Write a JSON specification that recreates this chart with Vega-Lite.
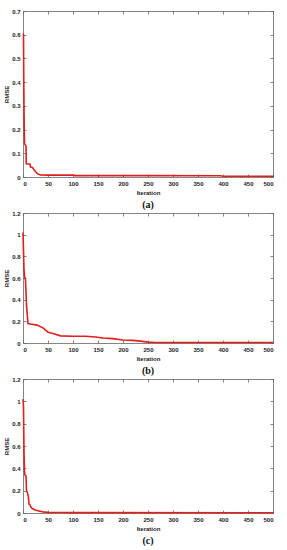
{
  "$schema": "https://vega.github.io/schema/vega-lite/v6.json",
  "padding": {"left": 3, "top": 8, "right": 12, "bottom": 0},
  "background": "white",
  "spacing": 0,
  "config": {
    "view": {"stroke": null},
    "axis": {"grid": false, "domainColor": "#666", "tickColor": "#666", "labelColor": "#222", "labelFont": "Liberation Sans", "labelFontSize": 6, "labelFontWeight": "bold", "titleFont": "Liberation Sans", "titleFontSize": 6, "titleFontWeight": "bold", "titleColor": "#222", "tickSize": -3, "labelPadding": 6, "titlePadding": 3, "domainWidth": 0.8, "tickWidth": 0.8, "labelOverlap": false},
    "title": {"font": "Liberation Serif", "fontSize": 10, "fontWeight": "bold", "color": "#111", "orient": "bottom", "anchor": "middle", "offset": 5}
  },
  "datasets": {
    "a": [
      {"it": 0, "v": 0.605}, {"it": 1, "v": 0.6}, {"it": 1.5, "v": 0.42}, {"it": 2, "v": 0.3}, {"it": 2.5, "v": 0.2}, {"it": 3, "v": 0.14}, {"it": 5, "v": 0.135}, {"it": 6, "v": 0.13}, {"it": 6.5, "v": 0.056}, {"it": 10, "v": 0.055}, {"it": 14, "v": 0.055}, {"it": 15, "v": 0.042}, {"it": 19, "v": 0.04}, {"it": 22, "v": 0.03}, {"it": 26, "v": 0.02}, {"it": 30, "v": 0.012}, {"it": 35, "v": 0.009}, {"it": 50, "v": 0.008}, {"it": 100, "v": 0.008}, {"it": 105, "v": 0.006}, {"it": 250, "v": 0.006}, {"it": 395, "v": 0.005}, {"it": 400, "v": 0.003}, {"it": 500, "v": 0.003}
    ],
    "b": [
      {"it": 0, "v": 1.02}, {"it": 2, "v": 0.68}, {"it": 3, "v": 0.62}, {"it": 5, "v": 0.58}, {"it": 7, "v": 0.35}, {"it": 10, "v": 0.18}, {"it": 15, "v": 0.175}, {"it": 28, "v": 0.165}, {"it": 40, "v": 0.14}, {"it": 50, "v": 0.1}, {"it": 60, "v": 0.087}, {"it": 75, "v": 0.066}, {"it": 100, "v": 0.063}, {"it": 125, "v": 0.062}, {"it": 145, "v": 0.056}, {"it": 160, "v": 0.046}, {"it": 180, "v": 0.04}, {"it": 200, "v": 0.028}, {"it": 220, "v": 0.024}, {"it": 235, "v": 0.017}, {"it": 250, "v": 0.008}, {"it": 265, "v": 0.004}, {"it": 500, "v": 0.004}
    ],
    "c": [
      {"it": 0, "v": 1.02}, {"it": 1, "v": 0.95}, {"it": 2, "v": 0.55}, {"it": 3, "v": 0.37}, {"it": 4, "v": 0.34}, {"it": 6, "v": 0.33}, {"it": 7, "v": 0.2}, {"it": 9, "v": 0.18}, {"it": 11, "v": 0.14}, {"it": 12, "v": 0.08}, {"it": 14, "v": 0.072}, {"it": 16, "v": 0.05}, {"it": 19, "v": 0.04}, {"it": 23, "v": 0.03}, {"it": 30, "v": 0.02}, {"it": 40, "v": 0.01}, {"it": 50, "v": 0.006}, {"it": 80, "v": 0.004}, {"it": 100, "v": 0.003}, {"it": 500, "v": 0.002}
    ]
  },
  "vconcat": [
    {
      "title": "(a)",
      "width": 250, "height": 166,
      "data": {"name": "a"},
      "resolve": {"axis": {"x": "independent", "y": "independent"}},
      "layer": [
        {
          "mark": {"type": "line", "color": "#e0201c", "strokeWidth": 1.6, "interpolate": "linear"},
          "encoding": {
            "x": {"field": "it", "type": "quantitative", "scale": {"domain": [0, 500], "nice": false}, "axis": {"title": "Iteration", "values": [0,50,100,150,200,250,300,350,400,450,500]}},
            "y": {"field": "v", "type": "quantitative", "scale": {"domain": [0, 0.7], "nice": false}, "axis": {"title": "RMSE", "values": [0,0.1,0.2,0.3,0.4,0.5,0.6,0.7], "format": ".1~f", "titlePadding": 2}}
          }
        },
        {
          "mark": {"type": "line", "opacity": 0},
          "encoding": {
            "x": {"field": "it", "type": "quantitative", "scale": {"domain": [0, 500], "nice": false}, "axis": {"orient": "top", "title": null, "labels": false, "values": [0,50,100,150,200,250,300,350,400,450,500]}},
            "y": {"field": "v", "type": "quantitative", "scale": {"domain": [0, 0.7], "nice": false}, "axis": {"orient": "right", "title": null, "labels": false, "values": [0,0.1,0.2,0.3,0.4,0.5,0.6,0.7]}}
          }
        }
      ]
    },
    {
      "title": "(b)",
      "width": 250, "height": 130,
      "data": {"name": "b"},
      "resolve": {"axis": {"x": "independent", "y": "independent"}},
      "layer": [
        {
          "mark": {"type": "line", "color": "#e0201c", "strokeWidth": 1.6},
          "encoding": {
            "x": {"field": "it", "type": "quantitative", "scale": {"domain": [0, 500], "nice": false}, "axis": {"title": "Iteration", "values": [0,50,100,150,200,250,300,350,400,450,500]}},
            "y": {"field": "v", "type": "quantitative", "scale": {"domain": [0, 1.2], "nice": false}, "axis": {"title": "RMSE", "values": [0,0.2,0.4,0.6,0.8,1,1.2], "format": ".1~f", "titlePadding": 2}}
          }
        },
        {
          "mark": {"type": "line", "opacity": 0},
          "encoding": {
            "x": {"field": "it", "type": "quantitative", "scale": {"domain": [0, 500], "nice": false}, "axis": {"orient": "top", "title": null, "labels": false, "values": [0,50,100,150,200,250,300,350,400,450,500]}},
            "y": {"field": "v", "type": "quantitative", "scale": {"domain": [0, 1.2], "nice": false}, "axis": {"orient": "right", "title": null, "labels": false, "values": [0,0.2,0.4,0.6,0.8,1,1.2]}}
          }
        }
      ]
    },
    {
      "title": "(c)",
      "width": 250, "height": 134,
      "data": {"name": "c"},
      "resolve": {"axis": {"x": "independent", "y": "independent"}},
      "layer": [
        {
          "mark": {"type": "line", "color": "#e0201c", "strokeWidth": 1.6},
          "encoding": {
            "x": {"field": "it", "type": "quantitative", "scale": {"domain": [0, 500], "nice": false}, "axis": {"title": "Iteration", "values": [0,50,100,150,200,250,300,350,400,450,500]}},
            "y": {"field": "v", "type": "quantitative", "scale": {"domain": [0, 1.2], "nice": false}, "axis": {"title": "RMSE", "values": [0,0.2,0.4,0.6,0.8,1,1.2], "format": ".1~f", "titlePadding": 2}}
          }
        },
        {
          "mark": {"type": "line", "opacity": 0},
          "encoding": {
            "x": {"field": "it", "type": "quantitative", "scale": {"domain": [0, 500], "nice": false}, "axis": {"orient": "top", "title": null, "labels": false, "values": [0,50,100,150,200,250,300,350,400,450,500]}},
            "y": {"field": "v", "type": "quantitative", "scale": {"domain": [0, 1.2], "nice": false}, "axis": {"orient": "right", "title": null, "labels": false, "values": [0,0.2,0.4,0.6,0.8,1,1.2]}}
          }
        }
      ]
    }
  ]
}
